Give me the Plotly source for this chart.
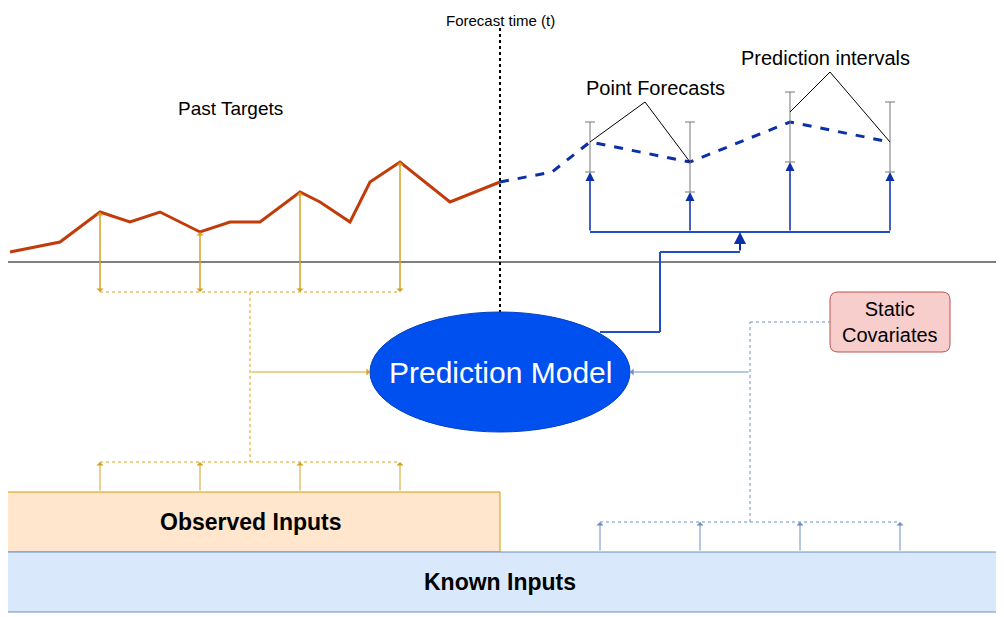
import plotly.graph_objects as go

# diagram coordinates in pixels of a 1004x617 canvas (y grows downward)
past_x = [10, 60, 100, 130, 160, 200, 230, 260, 300, 320, 350, 370, 400, 450, 500]
past_y = [252, 242, 212, 222, 212, 232, 222, 222, 192, 202, 222, 182, 162, 202, 182]
fc_x = [500, 552, 590, 690, 790, 890]
fc_y = [182, 172, 142, 162, 122, 142]
pi_x = [590, 690, 790, 890]
pi_low = [172, 192, 162, 172]
pi_high = [122, 122, 92, 102]
obs_x = [100, 200, 300, 400]
known_x = [600, 700, 800, 900]

ORANGE = '#d6a21e'
STEEL = '#6c8ebf'
NAVY = '#0b2fa8'

fig = go.Figure()
fig.add_trace(go.Scatter(x=past_x, y=past_y, mode='lines', line=dict(color='#c23b0b', width=3)))
fig.add_trace(go.Scatter(x=fc_x, y=fc_y, mode='lines', line=dict(color='#0b2fa8', width=3, dash='dash')))
# prediction intervals
fig.add_trace(go.Scatter(
    x=pi_x, y=[(a + b) / 2 for a, b in zip(pi_low, pi_high)], mode='markers',
    marker=dict(size=1, color='rgba(0,0,0,0)'),
    error_y=dict(type='data', symmetric=True, array=[(a - b) / 2 for a, b in zip(pi_low, pi_high)],
                 color='#777777', thickness=1, width=5)))

shapes = []
def line(x0, y0, x1, y1, color, width=1, dash='solid'):
    shapes.append(dict(type='line', x0=x0, y0=y0, x1=x1, y1=y1, line=dict(color=color, width=width, dash=dash)))

line(0, 262, 1004, 262, 'black', 1)
line(500, 28, 500, 312, 'black', 2, 'dot')
shapes.append(dict(type='circle', x0=370, y0=312, x1=630, y1=432, fillcolor='#0050ef', line=dict(color='#0040c0', width=1), layer='above'))
shapes.append(dict(type='rect', x0=0, y0=492, x1=500, y1=552, fillcolor='#ffe6cc', line=dict(color='#d79b00', width=1)))
shapes.append(dict(type='rect', x0=0, y0=552, x1=1000, y1=612, fillcolor='#dae8fc', line=dict(color=STEEL, width=1)))
shapes.append(dict(type='path', path='M 838 292 L 942 292 Q 950 292 950 300 L 950 344 Q 950 352 942 352 L 838 352 Q 830 352 830 344 L 830 300 Q 830 292 838 292 Z',
                   fillcolor='#f8cecc', line=dict(color='#b85450', width=1)))

# orange observed wiring
line(100, 292, 400, 292, ORANGE, 1, '3px,3px')
line(250, 292, 250, 462, ORANGE, 1, '3px,3px')
line(100, 462, 400, 462, ORANGE, 1, '3px,3px')
# known inputs wiring
line(600, 522, 900, 522, STEEL, 1, '3px,3px')
line(750, 522, 750, 322, STEEL, 1, '3px,3px')
line(750, 322, 830, 322, STEEL, 1, '3px,3px')
# model output wiring
line(600, 332, 660, 332, '#1f4fc8', 2)
line(660, 332, 660, 252, '#1f4fc8', 2)
line(660, 252, 740, 252, '#1f4fc8', 2)
line(590, 232, 890, 232, '#1f4fc8', 2)
# callout lines
line(645, 102, 590, 142, 'black')
line(645, 102, 690, 162, 'black')
line(830, 72, 790, 112, 'black')
line(830, 72, 890, 142, 'black')

ann = []
def arrow(x0, y0, x1, y1, color, width=1, head=1):
    ann.append(dict(x=x1, y=y1, ax=x0, ay=y0, xref='x', yref='y', axref='x', ayref='y',
                    showarrow=True, arrowhead=head, arrowsize=1.2, arrowwidth=width, arrowcolor=color, text=''))

for x, y in zip(obs_x, [212, 232, 192, 162]):
    arrow(x, 292, x, y, ORANGE)
    arrow(x, y, x, 292, ORANGE)
    arrow(x, 492, x, 462, ORANGE)
arrow(250, 372, 370, 372, ORANGE)
for x in known_x:
    arrow(x, 552, x, 522, STEEL)
arrow(750, 372, 630, 372, STEEL)
for x, y in zip(pi_x, pi_low):
    arrow(x, 232, x, y, NAVY, 1.5, 2)
arrow(740, 252, 740, 232, NAVY, 2, 2)

def text(x, y, t, size, color='black', bold=False):
    ann.append(dict(x=x, y=y, xref='x', yref='y', showarrow=False, text=f'<b>{t}</b>' if bold else t,
                    font=dict(size=size, color=color, family='Liberation Sans, Arial')))

text(500, 20, 'Forecast time (t)', 15)
text(230, 108, 'Past Targets', 19)
text(655, 88, 'Point Forecasts', 20)
text(825, 58, 'Prediction intervals', 20)
text(500, 372, 'Prediction Model', 30, 'white')
text(250, 522, 'Observed Inputs', 23, bold=True)
text(500, 582, 'Known Inputs', 23, bold=True)
text(890, 322, 'Static<br>Covariates', 20)

# the page puts the plot 8px in from the top-left corner, so shift the ranges
fig.update_layout(
    width=1004, height=617, margin=dict(l=0, r=0, t=0, b=0),
    plot_bgcolor='white', paper_bgcolor='white', showlegend=False,
    xaxis=dict(range=[8, 1012], visible=False, fixedrange=True),
    yaxis=dict(range=[625, 8], visible=False, fixedrange=True),
    shapes=shapes, annotations=ann,
)
fig.write_html('out.html')
